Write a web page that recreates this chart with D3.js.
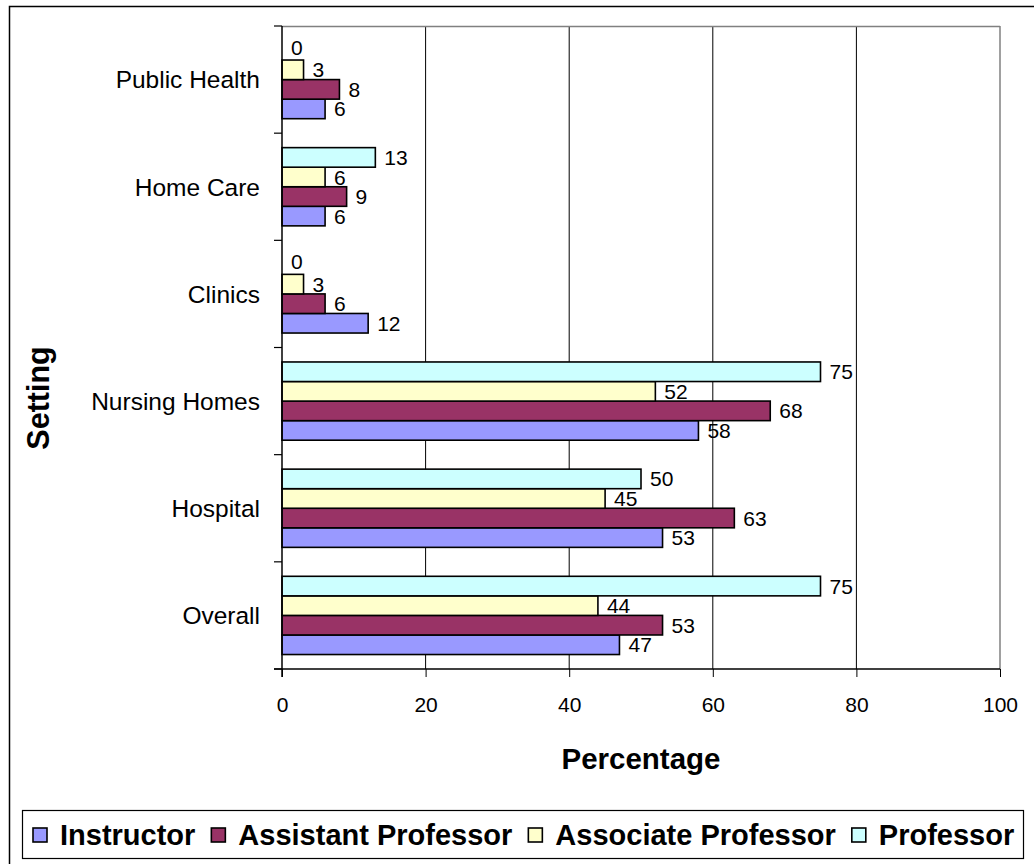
<!DOCTYPE html>
<html><head><meta charset="utf-8">
<script src="https://cdn.jsdelivr.net/npm/d3@7"></script>
<style>body{margin:0;background:#fff}svg{display:block;font-family:"Liberation Sans",Arial,sans-serif}</style>
</head><body><svg id="c" width="1034" height="864"></svg>
<script>
const categories = ["Public Health","Home Care","Clinics","Nursing Homes","Hospital","Overall"];
const seriesNames = ["Instructor","Assistant Professor","Associate Professor","Professor"];
const instructor = [6,6,12,58,53,47];
const assistant = [8,9,6,68,63,53];
const associate = [3,6,3,52,45,44];
const professor = [0,13,0,75,50,75];
const xTicks = [0,20,40,60,80,100];
const colors = ["#9999ff","#993366","#ffffcc","#ccffff"];
const seriesValues = [instructor, assistant, associate, professor];

const svg = d3.select("#c");
const L=282, R=1000, T=26, B=669;
svg.append("rect").attr("x",9.5).attr("y",6.5).attr("width",1040).attr("height",900).attr("fill","none").attr("stroke","#000").attr("stroke-width",1.5);

const x = d3.scaleLinear().domain([0,100]).range([L,R]);
const y = d3.scaleBand().domain(categories).range([T,B]).paddingInner(0.27).paddingOuter(0.135);
const sub = d3.scaleBand().domain([3,2,1,0]).range([0,y.bandwidth()]);

svg.append("g").selectAll("line").data(xTicks.slice(1)).join("line")
  .attr("x1",d=>x(d)).attr("x2",d=>x(d)).attr("y1",T).attr("y2",B)
  .attr("stroke",d=>d===100?"#808080":"#000").attr("stroke-width",d=>d===100?1.5:1);
svg.append("line").attr("x1",L).attr("x2",R).attr("y1",T+0.5).attr("y2",T+0.5).attr("stroke","#808080").attr("stroke-width",1.5);

const rows=[];
categories.forEach((c,i)=>seriesValues.forEach((s,j)=>rows.push({c,j,v:s[i]})));
const g = svg.append("g");
g.selectAll("rect").data(rows.filter(d=>d.v>0)).join("rect")
  .attr("x",x(0)).attr("y",d=>y(d.c)+sub(d.j)).attr("width",d=>x(d.v)-x(0)).attr("height",sub.bandwidth())
  .attr("fill",d=>colors[d.j]).attr("stroke","#000").attr("stroke-width",1.6);
g.selectAll("text").data(rows).join("text")
  .attr("x",d=>x(d.v)+9).attr("y",d=>y(d.c)+sub(d.j)+sub.bandwidth()/2+(d.v===0?-3:0)).attr("dy","0.36em")
  .attr("font-size",21).text(d=>d.v);

const xa = svg.append("g").attr("transform",`translate(0,${B})`)
  .call(d3.axisBottom(x).tickValues(xTicks).tickSize(8).tickPadding(20));
xa.select(".domain").remove();
xa.append("line").attr("x1",L-8).attr("x2",R).attr("stroke","#000").attr("stroke-width",1.5);
xa.selectAll(".tick line").attr("stroke","#000");
xa.selectAll("text").attr("font-size",21).attr("fill","#000").attr("font-family","Liberation Sans, Arial, sans-serif");

svg.append("line").attr("x1",L).attr("x2",L).attr("y1",T).attr("y2",B+8).attr("stroke","#000").attr("stroke-width",1.5);
const bounds = d3.range(categories.length+1).map(i=>T+i*(B-T)/categories.length);
svg.append("g").selectAll("line").data(bounds).join("line")
  .attr("x1",L-8).attr("x2",L).attr("y1",d=>d).attr("y2",d=>d).attr("stroke","#000").attr("stroke-width",1.2);
svg.append("g").selectAll("text").data(categories).join("text")
  .attr("x",260).attr("y",d=>y(d)+y.bandwidth()/2).attr("dy","0.36em").attr("text-anchor","end")
  .attr("font-size",24.5).text(d=>d);

svg.append("text").attr("x",641).attr("y",769).attr("text-anchor","middle").attr("font-size",29.5).attr("font-weight","bold").text("Percentage");
svg.append("text").attr("transform","translate(49,398) rotate(-90)").attr("text-anchor","middle").attr("font-size",30.5).attr("font-weight","bold").text("Setting");

svg.append("rect").attr("x",22.5).attr("y",810.5).attr("width",1001).attr("height",48).attr("fill","#fff").attr("stroke","#000").attr("stroke-width",1.2);
const lg = svg.append("g");
let cx = 33;
seriesNames.forEach((name,i)=>{
  const it = lg.append("g").attr("transform",`translate(${cx},835)`);
  it.append("rect").attr("x",0).attr("y",-7).attr("width",14).attr("height",14).attr("fill",colors[i]).attr("stroke","#000").attr("stroke-width",1.6);
  const t = it.append("text").attr("x",27).attr("dy","0.36em").attr("font-size",29).attr("font-weight","bold").text(name);
  cx += 27 + t.node().getComputedTextLength() + 16;
});
</script></body></html>
